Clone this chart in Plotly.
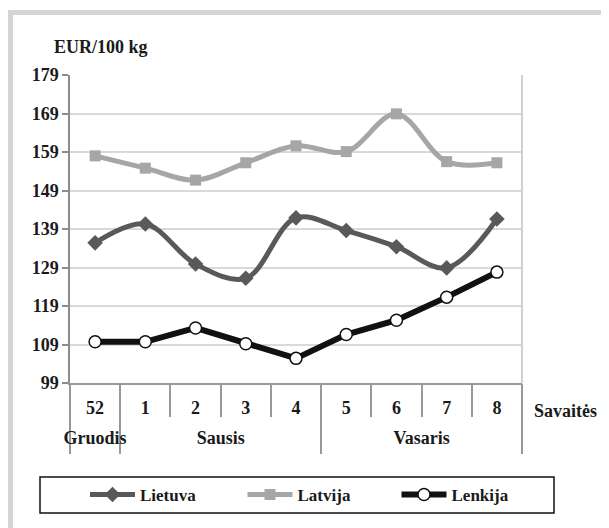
import plotly.graph_objects as go

months = ["Gruodis", "Sausis", "Sausis", "Sausis", "Sausis", "Vasaris", "Vasaris", "Vasaris", "Vasaris"]
weeks = ["52", "1", "2", "3", "4", "5", "6", "7", "8"]
lietuva = [135.4, 140.3, 129.9, 126.2, 141.9, 138.6, 134.4, 128.9, 141.6]
latvija = [158.0, 154.8, 151.7, 156.2, 160.6, 159.1, 168.9, 156.5, 156.2]
lenkija = [109.7, 109.7, 113.3, 109.2, 105.4, 111.6, 115.3, 121.3, 127.8]
y_ticks = [99, 109, 119, 129, 139, 149, 159, 169, 179]

# group geometry derived from the month list
idx = list(range(len(weeks)))
month_names = []
for m in months:
    if m not in month_names:
        month_names.append(m)
month_centers = [sum(i for i in idx if months[i] == m) / months.count(m) for m in month_names]
month_bounds = [min(i for i in idx if months[i] == m) - 0.5 for m in month_names] + [len(weeks) - 0.5]
week_bounds = [i + 0.5 for i in idx[:-1]]
xr = [-0.5, len(weeks) - 0.5]

FONT = "'Liberation Serif', 'Times New Roman', Times, serif"
OFF = 8  # page body margin in the browser
W, H = 609 - OFF, 528 - OFF
L, T = 70 - OFF, 75 - OFF
R, B = W - (522 - OFF), H - (383 - OFF)
pw, ph = W - L - R, H - T - B

def px(x):  # screenshot x -> paper
    return (x - OFF - L) / pw

def py(y):  # screenshot y -> paper
    return (H - B - (y - OFF)) / ph

TXT = "#1a1a1a"

fig = go.Figure()
fig.add_trace(go.Scatter(
    x=idx, y=lietuva, name="Lietuva", mode="lines+markers", legend="legend",
    line=dict(color="#595959", width=5, shape="spline", smoothing=1.0),
    marker=dict(symbol="diamond", size=12, color="#595959"),
))
fig.add_trace(go.Scatter(
    x=idx, y=latvija, name="Latvija", mode="lines+markers", legend="legend2",
    line=dict(color="#a6a6a6", width=5, shape="spline", smoothing=1.0),
    marker=dict(symbol="square", size=11, color="#a6a6a6"),
))
fig.add_trace(go.Scatter(
    x=idx, y=lenkija, name="Lenkija", mode="lines+markers", legend="legend3",
    line=dict(color="#111111", width=6),
    marker=dict(symbol="circle", size=12, color="white", line=dict(color="#111111", width=1.5)),
))
for ax in ["x2", "x3", "x4"]:
    fig.add_trace(go.Scatter(x=[], y=[], xaxis=ax, showlegend=False, hoverinfo="skip"))

tickfont = dict(family=FONT, size=18, color=TXT, weight="bold")

def leg(xs):
    return dict(
        orientation="h", xref="container", yref="container",
        x=(xs - OFF) / W, y=(H - (495 - OFF)) / H, xanchor="left", yanchor="middle",
        itemwidth=45,
        font=dict(family=FONT, size=17, color=TXT, weight="bold"),
        bgcolor="rgba(0,0,0,0)",
    )

fig.update_layout(
    width=W, height=H,
    margin=dict(l=L, r=R, t=T, b=B, pad=0, autoexpand=False),
    paper_bgcolor="white", plot_bgcolor="white",
    font=dict(family=FONT, size=16, color=TXT),
    showlegend=True,
    legend=leg(85), legend2=leg(242.5), legend3=leg(396.5),
    xaxis=dict(
        range=xr, tickmode="array", tickvals=idx, ticktext=weeks,
        showgrid=False, zeroline=False, automargin=False,
        showline=True, linecolor="#999999", linewidth=2,
        ticks="", tickfont=tickfont, ticklabelstandoff=7,
    ),
    xaxis2=dict(
        overlaying="x", anchor="y", side="bottom", range=xr, automargin=False,
        showgrid=False, zeroline=False, showline=False, showticklabels=False,
        tickmode="array", tickvals=week_bounds, ticks="outside", ticklen=33,
        tickwidth=2, tickcolor="#999999",
    ),
    xaxis3=dict(
        overlaying="x", anchor="y", side="bottom", range=xr, automargin=False,
        showgrid=False, zeroline=False, showline=False, showticklabels=False,
        tickmode="array", tickvals=month_bounds, ticks="outside", ticklen=70,
        tickwidth=2, tickcolor="#999999",
    ),
    xaxis4=dict(
        overlaying="x", anchor="y", side="bottom", range=xr, automargin=False,
        showgrid=False, zeroline=False, showline=False,
        tickmode="array", tickvals=month_centers, ticktext=month_names,
        ticks="", tickfont=tickfont, ticklabelstandoff=42,
    ),
    yaxis=dict(
        range=[99, 179], tickmode="array", tickvals=y_ticks, automargin=False,
        showgrid=True, gridcolor="#d9d9d9", gridwidth=1.5, zeroline=False,
        showline=True, linecolor="#8c8c8c", linewidth=1.5,
        ticks="outside", ticklen=6, tickcolor="#8c8c8c", tickwidth=1.5,
        tickfont=tickfont,
    ),
    shapes=[
        dict(type="line", xref="paper", yref="paper", x0=1, x1=1, y0=0, y1=1,
             line=dict(color="#d0d0d0", width=2)),
        dict(type="rect", xref="paper", yref="paper",
             x0=px(40), x1=px(554), y0=py(513), y1=py(477),
             line=dict(color="#111111", width=1.5)),
        dict(type="rect", xref="paper", yref="paper",
             x0=px(10.5), x1=px(640), y0=py(560), y1=py(12.5),
             line=dict(color="#d4d4d4", width=5)),
    ],
    annotations=[
        dict(text="EUR/100 kg", xref="paper", yref="paper", x=px(52), y=py(47),
             xanchor="left", yanchor="middle", showarrow=False,
             font=dict(family=FONT, size=18, color=TXT, weight="bold")),
        dict(text="Savaitės", xref="paper", yref="paper", x=px(532), y=py(411),
             xanchor="left", yanchor="middle", showarrow=False,
             font=dict(family=FONT, size=18, color=TXT, weight="bold")),
    ],
)

fig.write_html("out.html")
